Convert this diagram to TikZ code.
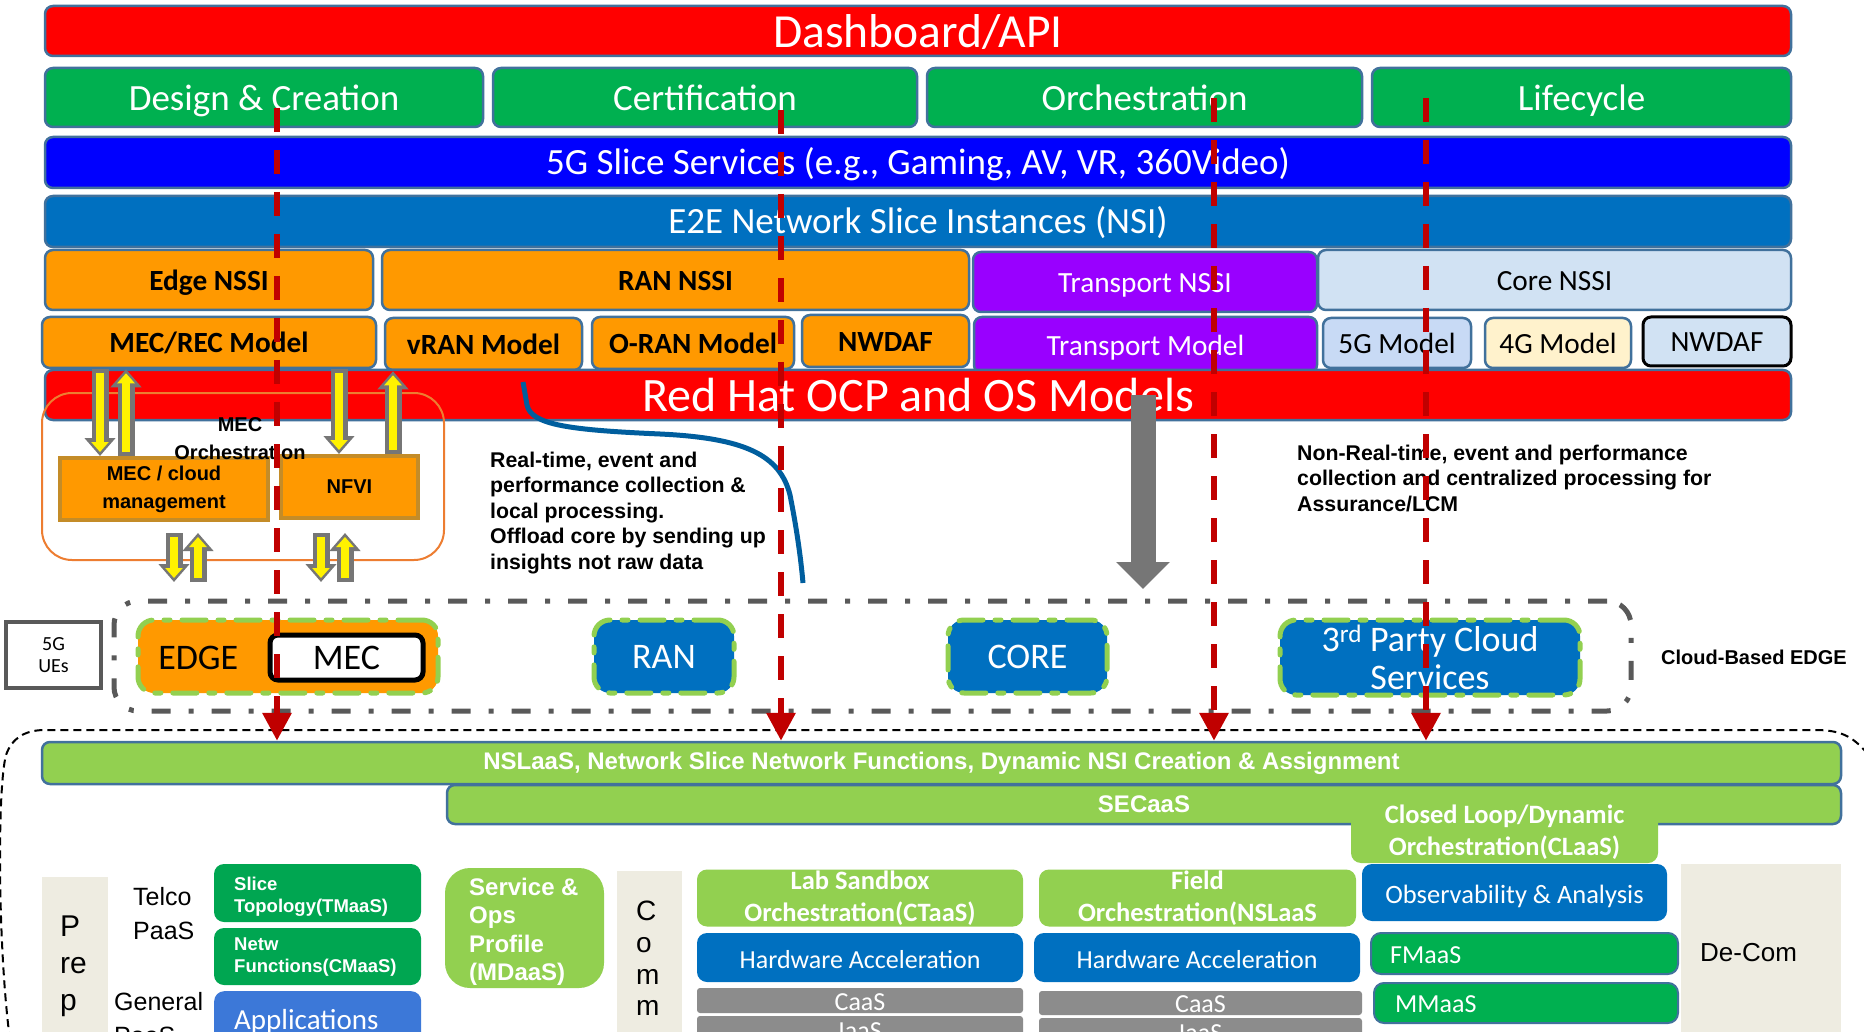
\documentclass[tikz,border=0pt]{standalone}
\usepackage{fontspec}
\setmainfont{Carlito}
\newfontfamily\arialfont{Liberation Sans}
\usepackage{xcolor}
\usetikzlibrary{arrows.meta, positioning}

\definecolor{rimblue}{RGB}{65,113,156}
\definecolor{slgreen}{RGB}{0,176,80}
\definecolor{e2eblue}{RGB}{0,112,192}
\definecolor{nssiorange}{RGB}{255,153,0}
\definecolor{transpurple}{RGB}{153,0,255}
\definecolor{corelight}{RGB}{209,226,243}
\definecolor{modellight}{RGB}{200,218,245}
\definecolor{cream}{RGB}{255,242,204}
\definecolor{limegreen}{RGB}{146,208,80}
\definecolor{darkgreen}{RGB}{0,166,81}
\definecolor{appblue}{RGB}{60,120,216}
\definecolor{barsgray}{RGB}{140,140,140}
\definecolor{beige}{RGB}{238,236,225}
\definecolor{flowred}{RGB}{192,0,0}
\definecolor{framegray}{RGB}{89,89,89}
\definecolor{arrowgray}{RGB}{118,118,118}
\definecolor{curveblue}{RGB}{0,94,158}
\definecolor{mecorange}{RGB}{237,125,49}
\definecolor{mecbrown}{RGB}{196,140,40}

\begin{document}
\begin{tikzpicture}[x=1pt, y=-1pt,
    layer/.style={draw=rimblue, line width=2.5pt, rounded corners=8pt, inner sep=0pt, align=center, text=white, text height=25pt, text depth=0pt, font=\fontsize{37}{40}\selectfont},
    model/.style={layer, text=black, text height=20.5pt, font=\fontsize{29.3}{32}\selectfont},
    boldmodel/.style={model, fill=nssiorange, font=\bfseries\fontsize{29.3}{32}\selectfont},
    mecbox/.style={draw=mecbrown, fill=nssiorange, line width=4pt, inner sep=0pt, align=center, font=\arialfont\bfseries\fontsize{20}{28}\selectfont},
    site/.style={draw=limegreen, line width=5pt, dash pattern=on 24pt off 12pt on 6pt off 12pt, line cap=round, rounded corners=16pt, fill=e2eblue, text=white, inner sep=0pt, align=center, font=\fontsize{36}{38}\selectfont},
    svcbar/.style={draw=rimblue, fill=limegreen, line width=2.5pt, rounded corners=8pt, inner sep=0pt, text=white, font=\arialfont\bfseries\fontsize{24}{26}\selectfont},
    tile/.style={rounded corners=10pt, inner sep=0pt, align=center, text=white, font=\fontsize{26}{30}\selectfont},
    oneline/.style={text height=21pt, text depth=0pt},
    bolder/.style={font=\bfseries\fontsize{26.5}{31.5}\selectfont},
    paneltxt/.style={inner sep=0pt, align=left, font=\arialfont\fontsize{25}{34}\selectfont},
    tiletxt/.style={inner sep=0pt, align=left, text=white, font=\arialfont\bfseries\fontsize{18.5}{22}\selectfont},
    note/.style={inner sep=0pt, align=left, font=\arialfont\bfseries\fontsize{21.3}{25.5}\selectfont},
    beigebox/.style={fill=beige, inner sep=0pt, anchor=north west},
    flow/.style={draw=flowred, line width=6.5pt, dash pattern=on 24pt off 18pt, -{Triangle[length=28pt, width=28pt]}},
    yarrow/.style={draw=yellow, line width=8pt, shorten <=4pt, shorten >=4pt, -{Triangle[length=10pt, width=17pt]},
        preaction={draw=arrowgray, line width=17pt, shorten <=0pt, shorten >=0pt, -{Triangle[length=18pt, width=30pt]}}},
    bigdown/.style={draw=arrowgray, line width=25pt, -{Triangle[length=27pt, width=52pt]}}
]
    \useasboundingbox (0,0) rectangle (1864,1032);
    \clip (0,0) rectangle (1864,1032);
    \fill[white] (0,0) rectangle (1864,1032);

    % Service frame at the bottom
    \draw[black, line width=2pt, dash pattern=on 8pt off 5pt] (10,1040) .. controls (-2,950) and (-3,790) .. (6,755) .. controls (12,738) and (25,730) .. (45,730) -- (1815,730) .. controls (1840,730) and (1852,736) .. (1866,752);

    % Management layers
    \node (dash) [layer, fill=red, minimum width=1746pt, minimum height=50pt, text height=34pt, font=\fontsize{47.5}{50}\selectfont] at (918,31) {Dashboard/API};
    \node (design) [layer, fill=slgreen, minimum width=438pt, minimum height=59pt, text height=26.5pt] at (264,97.5) {Design \& Creation};
    \node (cert) [layer, fill=slgreen, minimum width=424pt, minimum height=59pt, text height=26.5pt] at (705,97.5) {Certification};
    \node (orch) [layer, fill=slgreen, minimum width=435pt, minimum height=59pt, text height=26.5pt] at (1144.5,97.5) {Orchestration};
    \node (life) [layer, fill=slgreen, minimum width=419pt, minimum height=59pt, text height=26.5pt] at (1581.5,97.5) {Lifecycle};
    \node (svc) [layer, fill=blue, minimum width=1746pt, minimum height=51pt] at (918,162.5) {5G Slice Services (e.g., Gaming, AV, VR, 360Video)};
    \node (e2e) [layer, fill=e2eblue, minimum width=1746pt, minimum height=51pt] at (918,221.5) {E2E Network Slice Instances (NSI)};

    % NSSI row
    \node (edgenssi) [boldmodel, minimum width=328pt, minimum height=60pt] at (209,280) {Edge NSSI};
    \node (rannssi) [boldmodel, minimum width=587pt, minimum height=60pt] at (675.5,280) {RAN NSSI};
    \node (trnssi) [model, fill=transpurple, text=white, minimum width=344pt, minimum height=60pt] at (1145,282) {Transport NSSI};
    \node (corenssi) [model, fill=corelight, minimum width=473pt, minimum height=60pt] at (1554.5,280) {Core NSSI};

    % Model row
    \node (mecrec) [boldmodel, minimum width=334pt, minimum height=51pt] at (209,342.5) {MEC/REC Model};
    \node (vran) [boldmodel, minimum width=197pt, minimum height=52pt] at (483.5,344) {vRAN Model};
    \node (oran) [boldmodel, minimum width=202pt, minimum height=52pt] at (693,343) {O-RAN Model};
    \node (nwdafa) [boldmodel, minimum width=167pt, minimum height=52pt] at (885.5,341) {NWDAF};
    \node (trmodel) [model, fill=transpurple, text=white, minimum width=343pt, minimum height=56pt] at (1145.5,345) {Transport Model};
    \node (fivegm) [model, fill=modellight, minimum width=148pt, minimum height=50pt] at (1397,343) {5G Model};
    \node (fourgm) [model, fill=cream, minimum width=146pt, minimum height=50pt] at (1558,343) {4G Model};
    \node (nwdafb) [model, fill=corelight, draw=black, line width=3pt, minimum width=148pt, minimum height=49pt] at (1717,341.5) {NWDAF};

    \node (redhat) [layer, fill=red, minimum width=1746pt, minimum height=50pt, text height=33pt, font=\fontsize{48}{50}\selectfont] at (918,395) {Red Hat OCP and OS Models};

    % MEC orchestration
    \node (mecorch) [draw=mecorange, line width=2pt, rounded corners=30pt, minimum width=402pt, minimum height=167pt] at (243,476.5) {};
    \node (meccloud) [mecbox, minimum width=208pt, minimum height=62pt] at (164,489) {MEC / cloud\\management};
    \node (nfvi) [mecbox, minimum width=137pt, minimum height=62pt] at (349.5,487) {NFVI};
    \node (meclbl) [inner sep=0pt, align=center, font=\arialfont\bfseries\fontsize{20}{28}\selectfont] at (240,439) {MEC\\Orchestration};

    \draw[yarrow] (100,0 |- mecrec.south) -- (100,0 |- meccloud.north);
    \draw[yarrow] (126,0 |- meccloud.north) -- (126,0 |- mecrec.south);
    \draw[yarrow] (339,0 |- mecrec.south) -- (339,0 |- nfvi.north);
    \draw[yarrow] (393,0 |- nfvi.north) -- (393,0 |- vran.south);

    \coordinate (lowtop) at (0,533);
    \coordinate (lowbot) at (0,582);
    \draw[yarrow] (174,0 |- lowtop) -- (174,0 |- lowbot);
    \draw[yarrow] (198,0 |- lowbot) -- (198,0 |- lowtop);
    \draw[yarrow] (321,0 |- lowtop) -- (321,0 |- lowbot);
    \draw[yarrow] (345,0 |- lowbot) -- (345,0 |- lowtop);

    % Local and central processing
    \draw[curveblue, line width=5pt] (523,382) -- (527,405) .. controls (531,425) and (570,430) .. (660,434) .. controls (745,438) and (780,455) .. (790,495) .. controls (797,530) and (801,560) .. (803,583);
    \coordinate (grayend) at (1143,589);
    \draw[bigdown] (redhat.center -| grayend) -- (grayend);

    \node (rtnote) [note, anchor=north west] at (490,451.5) {Real-time, event and\\performance collection \&\\local processing.\\Offload core by sending up\\insights not raw data};
    \node (nrtnote) [note, anchor=north west] at (1297,444.5) {Non-Real-time, event and performance\\collection and centralized processing for\\Assurance/LCM};

    % Cloud-based edge
    \node (ues) [draw=framegray, line width=4pt, fill=white, minimum width=95pt, minimum height=66pt, inner sep=0pt, align=center, font=\fontsize{20}{22}\selectfont] at (53.5,655) {5G\\UEs};
    \node (cloudedge) [draw=framegray, line width=5pt, dash pattern=on 19pt off 18pt on 5pt off 18pt, rounded corners=24pt, minimum width=1517pt, minimum height=110pt] at (872.5,656) {};
    \node (edge) [site, fill=nssiorange, minimum width=300pt, minimum height=73pt] at (288,656.5) {};
    \node (mec) [fill=white, draw=black, line width=5pt, rounded corners=8pt, minimum width=153pt, minimum height=45pt, inner sep=0pt, font=\fontsize{36}{38}\selectfont] at (346.5,657.5) {MEC};
    \node (edgelbl) [left=29pt of mec, inner sep=0pt, font=\fontsize{36}{38}\selectfont] {EDGE};
    \node (ran) [site, minimum width=140pt, minimum height=73pt] at (664,656.5) {RAN};
    \node (core) [site, minimum width=159pt, minimum height=73pt] at (1027.5,656.5) {CORE};
    \node (third) [site, minimum width=300pt, minimum height=75pt] at (1430,657.5) {3\textsuperscript{rd} Party Cloud\\Services};
    \node (cloudlbl) [inner sep=0pt, font=\arialfont\bfseries\fontsize{20}{24}\selectfont] at (1754,657) {Cloud-Based EDGE};

    % As-a-service layers
    \node (nslaas) [svcbar, minimum width=1799pt, minimum height=42pt] at (941.5,763) {NSLaaS, Network Slice Network Functions, Dynamic NSI Creation \& Assignment};
    \node (secaas) [svcbar, minimum width=1394pt, minimum height=39pt] at (1144,804.5) {SECaaS};
    \node (closedloop) [tile, bolder, fill=limegreen, minimum width=307pt, minimum height=62pt] at (1504.5,832) {Closed Loop/Dynamic\\Orchestration(CLaaS)};

    \node (prep) [beigebox, minimum width=66pt, minimum height=180pt] at (42,877) {};
    \node (preplbl) [paneltxt, anchor=north west, font=\arialfont\fontsize{30}{37}\selectfont] at (60,916) {P\\re\\p};
    \node (telco) [paneltxt, anchor=north west] at (133,887) {Telco\\PaaS};
    \node (general) [paneltxt, anchor=north west] at (114,992) {General\\PaaS};

    \node (slicetopo) [tile, fill=darkgreen, minimum width=207pt, minimum height=58pt] at (317.5,893) {};
    \node (slicelbl) [tiletxt, anchor=north west] at (234,876.5) {Slice\\Topology(TMaaS)};
    \node (netwfn) [tile, fill=darkgreen, minimum width=207pt, minimum height=57pt] at (317.5,956.5) {};
    \node (netwlbl) [tiletxt, anchor=north west] at (234,937.5) {Netw\\Functions(CMaaS)};
    \node (apps) [tile, fill=appblue, minimum width=207pt, minimum height=70pt, anchor=north west] at (214,991) {};
    \node (appslbl) [inner sep=0pt, text=white, anchor=base west, font=\fontsize{29}{32}\selectfont] at (234,1029) {Applications};

    \node (opsprofile) [tile, fill=limegreen, rounded corners=25pt, minimum width=159pt, minimum height=120pt] at (524.5,928) {};
    \node (opslbl) [tiletxt, anchor=north west, font=\arialfont\bfseries\fontsize{24}{28.5}\selectfont] at (469,877.5) {Service \&\\Ops\\Profile\\(MDaaS)};

    \node (comm) [beigebox, minimum width=65pt, minimum height=180pt] at (617,871) {};
    \node (commlbl) [paneltxt, anchor=north west, font=\arialfont\fontsize{28}{31.7}\selectfont] at (636,901) {C\\o\\m\\m};

    \node (labsand) [tile, bolder, fill=limegreen, minimum width=326pt, minimum height=57pt] at (860,898) {Lab Sandbox\\Orchestration(CTaaS)};
    \node (field) [tile, bolder, fill=limegreen, minimum width=317pt, minimum height=57pt] at (1197.5,898) {Field\\Orchestration(NSLaaS};
    \node (obs) [tile, oneline, fill=e2eblue, minimum width=305pt, minimum height=57pt, font=\fontsize{26.5}{30}\selectfont] at (1514.5,892.5) {Observability \& Analysis};

    \node (hwa) [tile, oneline, fill=e2eblue, minimum width=326pt, minimum height=49pt] at (860,957.5) {Hardware Acceleration};
    \node (hwb) [tile, oneline, fill=e2eblue, minimum width=326pt, minimum height=49pt] at (1197,957.5) {Hardware Acceleration};
    \node (caasa) [tile, oneline, fill=barsgray, rounded corners=3pt, minimum width=326pt, minimum height=25pt, text height=19pt] at (860,1000.5) {CaaS};
    \node (iaasa) [tile, oneline, fill=barsgray, rounded corners=3pt, minimum width=326pt, minimum height=28pt, text height=19pt] at (860,1030) {IaaS};
    \node (caasb) [tile, oneline, fill=barsgray, rounded corners=3pt, minimum width=323pt, minimum height=24pt, text height=19pt] at (1200.5,1003) {CaaS};
    \node (iaasb) [tile, oneline, fill=barsgray, rounded corners=3pt, minimum width=323pt, minimum height=28pt, text height=19pt] at (1200.5,1032) {IaaS};

    \node (fmaas) [tile, fill=slgreen, draw=rimblue, line width=2pt, minimum width=307pt, minimum height=41pt] at (1524.5,953.5) {};
    \node (fmaaslbl) [inner sep=0pt, text=white, anchor=base west, font=\fontsize{26}{30}\selectfont] at (1390,963) {FMaaS};
    \node (mmaas) [tile, fill=slgreen, draw=rimblue, line width=2pt, minimum width=304pt, minimum height=40pt] at (1526,1003) {};
    \node (mmaaslbl) [inner sep=0pt, text=white, anchor=base west, font=\fontsize{26}{30}\selectfont] at (1395,1012) {MMaaS};

    \node (decom) [beigebox, minimum width=160pt, minimum height=180pt] at (1681,864) {};
    \node (decomlbl) [inner sep=0pt, anchor=base west, font=\arialfont\fontsize{26}{30}\selectfont] at (1700,961) {De-Com};

    % Flows down to the service layer
    \foreach \name/\xx/\yy in {fa/277/108, fb/781/110, fc/1214/98, fd/1426/98}
        \coordinate (\name) at (\xx,\yy);
    \foreach \name in {fa, fb, fc, fd}
        \draw[flow] (\name) -- (\name |- nslaas.north);
\end{tikzpicture}
\end{document}
